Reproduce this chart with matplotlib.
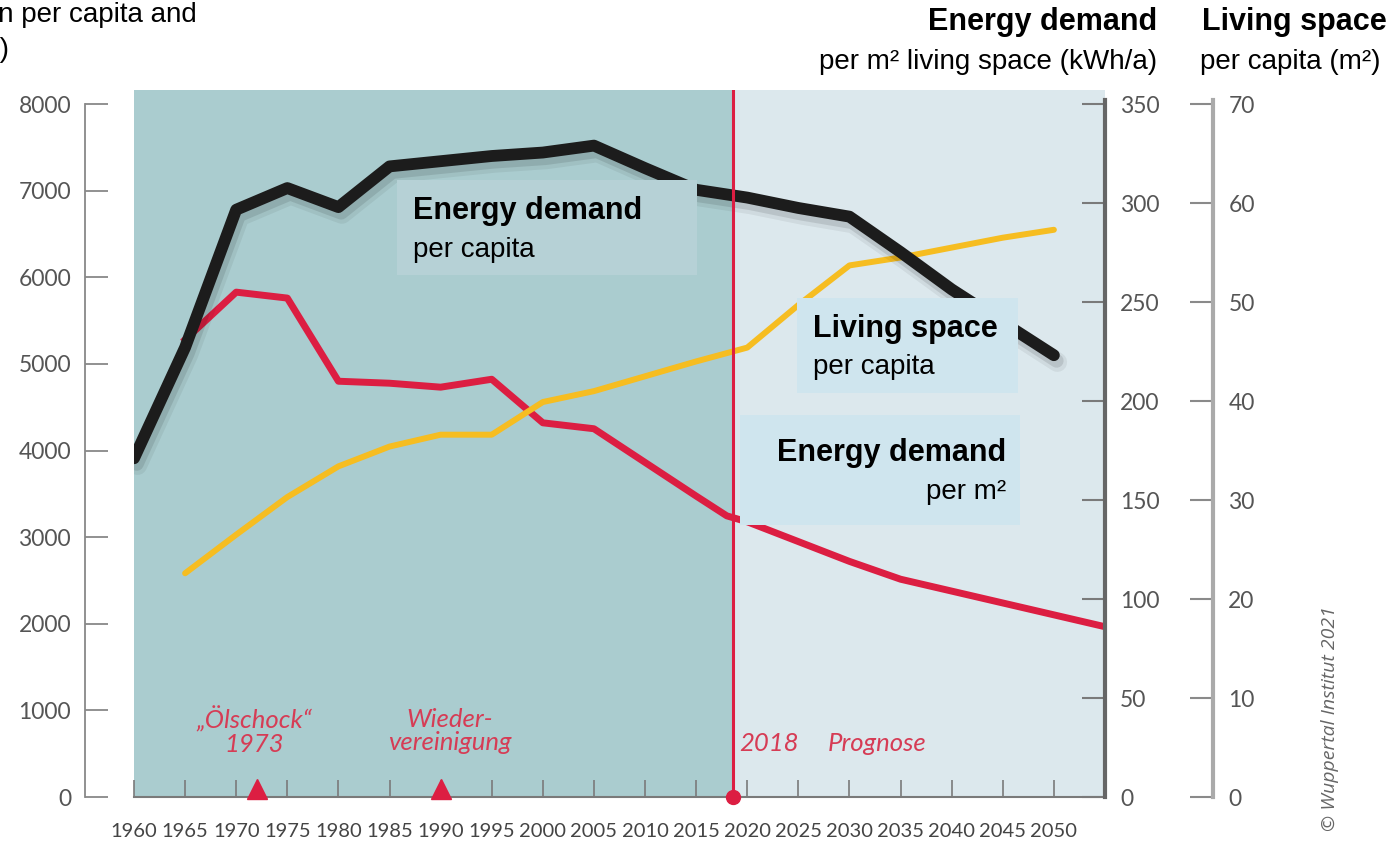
import matplotlib.pyplot as plt
import matplotlib.patheffects as pe
from matplotlib.patches import Rectangle

W, H = 1395, 846

# energy demand per capita (kWh/a), left axis
years_cap = [1960, 1965, 1970, 1975, 1980, 1985, 1990, 1995, 2000, 2005,
             2010, 2015, 2020, 2025, 2030, 2035, 2040, 2045, 2050]
energy_cap = [3910, 5190, 6780, 7030, 6810, 7280, 7340, 7400, 7440, 7520,
              7260, 7010, 6920, 6800, 6700, 6290, 5860, 5480, 5100]

# energy demand per m2 living space (kWh/a), first right axis
years_m2 = [1965, 1970, 1975, 1980, 1985, 1990, 1995, 2000, 2005, 2010,
            2015, 2018, 2020, 2025, 2030, 2035, 2040, 2045, 2050, 2055]
energy_m2 = [231, 255, 252, 210, 209, 207, 211, 189, 186, 169,
             152, 142, 139, 129, 119, 110, 104, 98, 92, 86]

# living space per capita (m2), second right axis
years_ls = [1965, 1970, 1975, 1980, 1985, 1990, 1995, 2000, 2005,
            2010, 2015, 2020, 2025, 2030, 2035, 2040, 2045, 2050]
living = [22.6, 26.5, 30.3, 33.4, 35.4, 36.6, 36.6, 39.9, 41.0,
          42.5, 44.0, 45.4, 49.7, 53.7, 54.5, 55.5, 56.5, 57.3]

event_years = [1972, 1990]
split_year = 2018.6

c_black = '#1c1c1c'
c_red = '#dc1e42'
c_yellow = '#f6bd21'
c_text_red = '#d63c55'
c_dark_bg = '#aacccf'
c_light_bg = '#dce8ed'

plt.rcParams['font.family'] = ['Lato', 'DejaVu Sans']


def px(x, y):
    return x / W, 1 - y / H


fig = plt.figure(figsize=(W / 100, H / 100), dpi=100)
ax = fig.add_axes([134 / W, 49 / H, (1105 - 134) / W, (797 - 90) / H])
ax.set_facecolor('none')
ax.set_xlim(1960, 2055)
ax.set_ylim(0, 8162)
ax.axvspan(1960, split_year, color=c_dark_bg, lw=0)
ax.axvspan(split_year, 2055, color=c_light_bg, lw=0)
ax.set_xticks(range(1960, 2051, 5))
ax.tick_params(axis='x', direction='in', length=12, width=1.2, color='#7a7a7a',
               labelsize=14.5, labelcolor='#444444', pad=19)
ax.set_yticks([])
for s in ['left', 'right', 'top']:
    ax.spines[s].set_visible(False)
ax.spines['bottom'].set_color('#7a7a7a')
ax.spines['bottom'].set_linewidth(1.5)

# red line: energy per m2
ax_red = ax.twinx()
ax_red.set_ylim(0, 357.1)
ax_red.plot(years_m2, energy_m2, color=c_red, lw=5, solid_joinstyle='round')
ax_red.set_yticks(range(0, 351, 50))
for s in ['left', 'top', 'bottom']:
    ax_red.spines[s].set_visible(False)
ax_red.spines['right'].set_color('#666666')
ax_red.spines['right'].set_linewidth(3)
ax_red.spines['right'].set_bounds(0, 352)
ax_red.tick_params(axis='y', direction='in', length=16.5, width=1.5, color='#7a7a7a',
                   labelsize=16.5, labelcolor='#555555', pad=11)

# yellow line: living space
ax_yel = ax.twinx()
ax_yel.set_ylim(0, 71.42)
ax_yel.plot(years_ls, living, color=c_yellow, lw=4.3, solid_capstyle='round',
            solid_joinstyle='round')
ax_yel.set_yticks(range(0, 71, 10))
for s in ['left', 'top', 'bottom']:
    ax_yel.spines[s].set_visible(False)
ax_yel.spines['right'].set_position(('outward', 77.8))
ax_yel.spines['right'].set_color('#aaaaaa')
ax_yel.spines['right'].set_linewidth(3)
ax_yel.spines['right'].set_bounds(0, 70.4)
ax_yel.tick_params(axis='y', direction='in', length=16.5, width=1.5, color='#8a8a8a',
                   labelsize=16.5, labelcolor='#555555', pad=11)

# black line: energy per capita, on the left axis
ax_blk = ax.twinx()
ax_blk.set_ylim(0, 8162)
ax_blk.yaxis.tick_left()
ax_blk.yaxis.set_label_position('left')
ax_blk.plot(years_cap, energy_cap, color=c_black, lw=8.5, solid_capstyle='round',
            solid_joinstyle='round',
            path_effects=[pe.SimpleLineShadow(offset=(2.5, -5), shadow_color='k', alpha=0.06, linewidth=14),
                          pe.SimpleLineShadow(offset=(2, -4), shadow_color='k', alpha=0.1, linewidth=10),
                          pe.Normal()])
ax_blk.set_yticks(range(0, 8001, 1000))
for s in ['right', 'top', 'bottom']:
    ax_blk.spines[s].set_visible(False)
ax_blk.spines['left'].set_position(('outward', 35.3))
ax_blk.spines['left'].set_color('#888888')
ax_blk.spines['left'].set_linewidth(1.3)
ax_blk.spines['left'].set_bounds(0, 8000)
ax_blk.tick_params(axis='y', direction='in', length=16.5, width=1.3, color='#888888',
                   labelsize=16.5, labelcolor='#555555', pad=10)

# 2018 marker line and events
ax_blk.axvline(split_year, color=c_red, lw=2.2, zorder=5)
ax_blk.plot([split_year], [0], 'o', color=c_red, ms=10, clip_on=False, zorder=6)
ax_blk.plot(event_years, [90, 90], '^', color=c_red, ms=15, clip_on=False, zorder=6)

ev = dict(color=c_text_red, style='italic', fontsize=18.5, va='center', linespacing=1.0)
ax_blk.text(1971.8, 762, '\u201eÖlschock\u201c\n1973', ha='center', **ev)
ax_blk.text(1990.9, 762, 'Wieder-\nvereinigung', ha='center', **ev)
ax_blk.text(2019.2, 623, '2018', ha='left', **ev)
ax_blk.text(2027.9, 623, 'Prognose', ha='left', **ev)

# label boxes
boxes = [((397, 180, 697, 275), '#b6d1d6'),
         ((797, 298, 1018, 393), '#cfe5ee'),
         ((740, 415, 1020, 525), '#cfe5ee')]
for (x0, y0, x1, y1), col in boxes:
    fig.patches.append(Rectangle(px(x0, y1), (x1 - x0) / W, (y1 - y0) / H,
                                 transform=fig.transFigure, color=col, lw=0, zorder=1))

lab = dict(family=['Liberation Sans', 'DejaVu Sans'], color='black', va='center')
fig.text(*px(413, 211), 'Energy demand', fontsize=22, weight='bold', ha='left', **lab)
fig.text(*px(413, 250), 'per capita', fontsize=20, ha='left', **lab)
fig.text(*px(813, 329), 'Living space', fontsize=22, weight='bold', ha='left', **lab)
fig.text(*px(813, 367), 'per capita', fontsize=20, ha='left', **lab)
fig.text(*px(1006, 453), 'Energy demand', fontsize=22, weight='bold', ha='right', **lab)
fig.text(*px(1006, 492), 'per m\u00b2', fontsize=20, ha='right', **lab)

# axis headers
fig.text(*px(1157, 22), 'Energy demand', fontsize=22, weight='bold', ha='right', **lab)
fig.text(*px(1157, 62), 'per m\u00b2 living space (kWh/a)', fontsize=20, ha='right', **lab)
fig.text(*px(1202, 22), 'Living space', fontsize=22, weight='bold', ha='left', **lab)
fig.text(*px(1200, 62), 'per capita (m\u00b2)', fontsize=20, ha='left', **lab)
# left header runs off the left edge, as in the original
fig.text(*px(197, 15), 'Energy consumption per capita and', fontsize=20, ha='right', **lab)
fig.text(*px(9, 50), 'year (kWh)', fontsize=20, ha='right', **lab)

fig.text(*px(1330, 719), '\u00a9 Wuppertal Institut 2021', rotation=90, style='italic',
         family=['Open Sans', 'DejaVu Sans'], fontsize=14, color='#666666',
         ha='center', va='center')

fig.savefig('out.png', dpi=100)
